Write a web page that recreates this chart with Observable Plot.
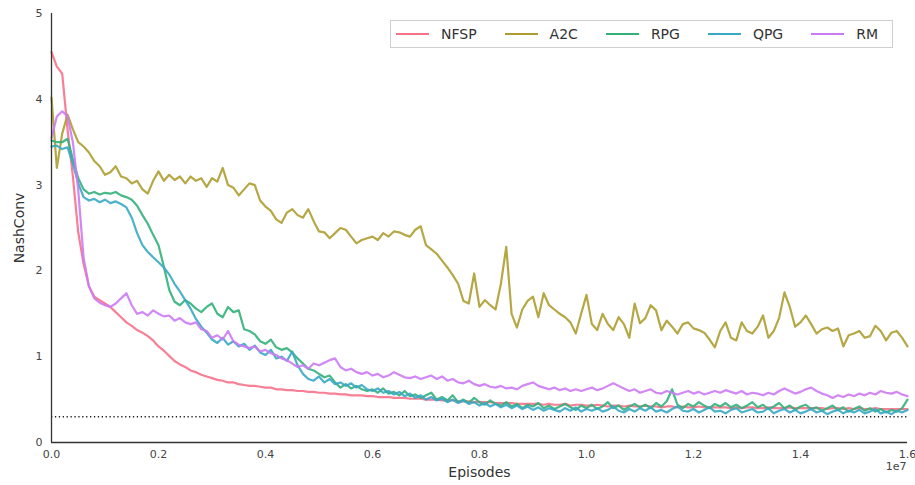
<!DOCTYPE html>
<html>
<head>
<meta charset="utf-8">
<script src="https://cdn.jsdelivr.net/npm/d3@7"></script>
<script src="https://cdn.jsdelivr.net/npm/@observablehq/plot@0.6"></script>
<style>
  html, body { margin: 0; padding: 0; background: #fff; }
  #wrap { position: relative; width: 915px; height: 485px; font-family: "DejaVu Sans", sans-serif; }
  #legend { position: absolute; left: 390px; top: 20px; width: 496px; height: 26px; border: 1px solid #cfcfcf; background: #fff;
            display: flex; align-items: center; box-sizing: content-box; padding-left: 5px; }
  .item { display: flex; align-items: center; margin-right: 28px; font-size: 14px; color: #333; }
  .item:last-child { margin-right: 0; }
  .swatch { width: 33px; height: 0; border-top: 2px solid; margin-right: 12px; }
</style>
</head>
<body>
<div id="wrap"><div id="legend"></div></div>
<script>
// x grid: episodes, step 1e5 (0 .. 1.6e7)
const episodes = d3.range(161).map(i => i * 1e5);

const names = ["NFSP", "A2C", "RPG", "QPG", "RM"];
const colors = ["#f77189", "#ae9d31", "#33b07a", "#38a9c5", "#cc7af4"];
const threshold = 0.3;
const xTicks = [0, 0.2e7, 0.4e7, 0.6e7, 0.8e7, 1.0e7, 1.2e7, 1.4e7, 1.6e7];
const yTicks = [0, 1, 2, 3, 4, 5];

const nfsp = [4.55,4.38,4.30,3.65,3.10,2.45,2.08,1.82,1.70,1.66,
1.62,1.58,1.52,1.46,1.40,1.36,1.31,1.28,1.24,1.19,
1.12,1.07,1.01,0.95,0.91,0.88,0.84,0.82,0.79,0.77,
0.75,0.73,0.72,0.70,0.70,0.68,0.67,0.66,0.66,0.65,
0.64,0.64,0.62,0.62,0.61,0.61,0.60,0.60,0.59,0.59,
0.58,0.58,0.57,0.57,0.56,0.56,0.55,0.55,0.55,0.54,
0.54,0.53,0.53,0.53,0.52,0.52,0.52,0.51,0.51,0.51,
0.50,0.50,0.50,0.49,0.49,0.49,0.48,0.48,0.48,0.47,
0.47,0.47,0.47,0.46,0.46,0.46,0.46,0.45,0.45,0.45,
0.45,0.45,0.44,0.45,0.44,0.44,0.45,0.43,0.44,0.44,
0.43,0.43,0.44,0.43,0.42,0.43,0.43,0.42,0.43,0.42,
0.42,0.43,0.42,0.42,0.41,0.42,0.42,0.41,0.42,0.41,
0.41,0.42,0.41,0.41,0.41,0.41,0.41,0.40,0.41,0.40,
0.41,0.41,0.40,0.40,0.41,0.40,0.40,0.40,0.41,0.40,
0.40,0.40,0.40,0.40,0.40,0.39,0.40,0.40,0.39,0.40,
0.39,0.40,0.39,0.39,0.40,0.39,0.39,0.39,0.39,0.39,
0.39];

const a2c = [4.02,3.20,3.60,3.82,3.65,3.50,3.45,3.38,3.28,3.22,
3.12,3.15,3.22,3.10,3.08,3.02,3.05,2.95,2.90,3.05,
3.16,3.05,3.12,3.06,3.10,3.02,3.10,3.05,3.08,2.98,
3.08,3.04,3.20,3.00,2.97,2.88,2.95,3.02,3.00,2.82,
2.75,2.70,2.60,2.56,2.68,2.72,2.65,2.62,2.72,2.58,
2.46,2.45,2.38,2.44,2.50,2.48,2.40,2.32,2.36,2.38,
2.40,2.36,2.44,2.40,2.46,2.45,2.42,2.40,2.48,2.52,
2.30,2.25,2.20,2.12,2.04,1.95,1.85,1.65,1.62,1.97,
1.58,1.66,1.60,1.55,1.85,2.28,1.50,1.34,1.55,1.65,
1.70,1.46,1.74,1.60,1.55,1.50,1.46,1.40,1.27,1.50,
1.72,1.38,1.31,1.50,1.38,1.31,1.46,1.38,1.22,1.62,
1.39,1.45,1.60,1.54,1.31,1.42,1.35,1.27,1.38,1.40,
1.33,1.31,1.28,1.20,1.11,1.30,1.40,1.22,1.19,1.40,
1.30,1.27,1.35,1.48,1.22,1.30,1.45,1.75,1.58,1.35,
1.40,1.48,1.38,1.27,1.32,1.34,1.30,1.33,1.12,1.25,
1.27,1.30,1.22,1.24,1.36,1.30,1.19,1.28,1.30,1.22,
1.12];

const rpg = [3.52,3.50,3.50,3.54,3.30,3.08,2.95,2.90,2.92,2.89,
2.91,2.90,2.92,2.88,2.86,2.83,2.76,2.65,2.55,2.42,
2.30,2.05,1.78,1.64,1.60,1.66,1.62,1.56,1.52,1.58,
1.62,1.50,1.46,1.58,1.52,1.54,1.32,1.30,1.26,1.18,
1.15,1.20,1.11,1.08,1.10,1.05,0.98,0.92,0.86,0.84,
0.80,0.76,0.78,0.70,0.64,0.68,0.63,0.66,0.62,0.60,
0.62,0.58,0.63,0.57,0.59,0.55,0.60,0.54,0.56,0.52,
0.55,0.58,0.50,0.53,0.49,0.55,0.47,0.50,0.46,0.52,
0.47,0.44,0.49,0.45,0.43,0.47,0.42,0.45,0.40,0.44,
0.42,0.46,0.40,0.43,0.39,0.42,0.45,0.41,0.38,0.43,
0.40,0.44,0.39,0.42,0.47,0.40,0.43,0.38,0.42,0.45,
0.41,0.44,0.40,0.46,0.42,0.48,0.62,0.44,0.40,0.45,
0.42,0.47,0.43,0.40,0.45,0.42,0.46,0.41,0.44,0.40,
0.43,0.47,0.41,0.44,0.39,0.42,0.46,0.40,0.43,0.38,
0.42,0.44,0.39,0.41,0.37,0.40,0.43,0.38,0.41,0.36,
0.39,0.42,0.37,0.40,0.36,0.39,0.35,0.38,0.36,0.40,
0.50];

const qpg = [3.45,3.46,3.42,3.44,3.25,3.02,2.86,2.82,2.84,2.80,
2.83,2.79,2.81,2.78,2.74,2.62,2.44,2.30,2.22,2.16,
2.10,2.04,1.96,1.85,1.76,1.66,1.56,1.44,1.35,1.28,
1.20,1.16,1.22,1.14,1.18,1.12,1.15,1.08,1.13,1.05,
1.02,1.08,0.98,1.00,0.95,1.06,0.90,0.80,0.74,0.72,
0.77,0.70,0.74,0.68,0.70,0.66,0.69,0.64,0.67,0.62,
0.60,0.63,0.58,0.60,0.56,0.59,0.54,0.57,0.52,0.55,
0.50,0.53,0.49,0.51,0.47,0.50,0.46,0.49,0.45,0.47,
0.43,0.46,0.42,0.45,0.41,0.44,0.40,0.43,0.39,0.42,
0.38,0.41,0.37,0.40,0.38,0.36,0.40,0.37,0.41,0.36,
0.39,0.37,0.40,0.36,0.38,0.42,0.37,0.35,0.39,0.36,
0.40,0.37,0.41,0.36,0.38,0.35,0.39,0.42,0.37,0.36,
0.39,0.35,0.38,0.41,0.36,0.37,0.34,0.38,0.40,0.35,
0.37,0.39,0.35,0.36,0.40,0.34,0.37,0.39,0.35,0.38,
0.34,0.36,0.39,0.35,0.37,0.33,0.36,0.38,0.34,0.37,
0.35,0.38,0.34,0.36,0.39,0.34,0.36,0.33,0.37,0.35,
0.38];

const rm = [3.55,3.80,3.86,3.80,3.50,2.94,2.15,1.82,1.68,1.63,
1.60,1.58,1.62,1.68,1.74,1.60,1.50,1.52,1.48,1.54,
1.50,1.47,1.48,1.42,1.45,1.40,1.38,1.40,1.32,1.30,
1.22,1.25,1.20,1.30,1.18,1.14,1.12,1.10,1.12,1.06,
1.08,1.04,1.02,0.98,0.96,0.92,0.88,0.90,0.86,0.92,
0.90,0.93,0.96,0.98,0.88,0.84,0.86,0.82,0.80,0.82,
0.78,0.80,0.76,0.78,0.82,0.79,0.76,0.75,0.77,0.74,
0.76,0.78,0.74,0.77,0.72,0.74,0.70,0.69,0.72,0.68,
0.66,0.68,0.65,0.64,0.66,0.63,0.64,0.62,0.66,0.68,
0.70,0.66,0.64,0.62,0.64,0.61,0.63,0.60,0.62,0.60,
0.62,0.64,0.61,0.63,0.66,0.69,0.66,0.63,0.60,0.62,
0.58,0.60,0.62,0.58,0.57,0.60,0.58,0.56,0.58,0.60,
0.57,0.59,0.56,0.58,0.60,0.58,0.61,0.59,0.57,0.60,
0.56,0.58,0.57,0.55,0.58,0.56,0.60,0.63,0.60,0.57,
0.59,0.62,0.64,0.60,0.57,0.55,0.52,0.55,0.53,0.56,
0.54,0.57,0.55,0.58,0.56,0.60,0.58,0.57,0.59,0.56,
0.54];

const seriesValues = [nfsp, a2c, rpg, qpg, rm];
const rows = [];
names.forEach((name, k) => {
  seriesValues[k].forEach((v, i) => rows.push({episodes: episodes[i], value: v, algo: name}));
});

const chart = Plot.plot({
  width: 915,
  height: 485,
  marginLeft: 51,
  marginRight: 8,
  marginTop: 13,
  marginBottom: 43,
  style: {fontFamily: "DejaVu Sans, sans-serif", fontSize: "11px", color: "#444", background: "#fff"},
  x: {domain: [0, 1.6e7], ticks: xTicks, tickFormat: d => (d / 1e7).toFixed(1), tickSize: 0, tickPadding: 8,
      label: "Episodes", labelAnchor: "center", labelArrow: "none", labelOffset: 34},
  y: {domain: [0, 5], ticks: yTicks, tickFormat: d => String(d), tickSize: 0, tickPadding: 9,
      label: "NashConv", labelAnchor: "center", labelArrow: "none", labelOffset: 37},
  color: {domain: names, range: colors},
  marks: [
    Plot.ruleY([threshold], {stroke: "#222", strokeWidth: 1.3, strokeDasharray: "1.3,2.6"}),
    Plot.line(rows, {x: "episodes", y: "value", z: "algo", stroke: "algo", strokeWidth: 2.2, strokeOpacity: 0.9, curve: "linear"}),
    Plot.ruleX([0], {stroke: "#333", strokeWidth: 1.3}),
    Plot.ruleY([0], {stroke: "#333", strokeWidth: 1.3}),
    Plot.text(["1e7"], {frameAnchor: "bottom-right", dy: 27, dx: -1, textAnchor: "end", fill: "#444", fontSize: 11})
  ]
});
d3.select(chart).selectAll("g[aria-label='x-axis label'] text, g[aria-label='y-axis label'] text")
  .style("font-size", "14px").style("fill", "#333");
document.getElementById("wrap").prepend(chart);

const legend = document.getElementById("legend");
names.forEach((n, k) => {
  const it = document.createElement("div");
  it.className = "item";
  const sw = document.createElement("div");
  sw.className = "swatch";
  sw.style.borderTopColor = colors[k];
  const tx = document.createElement("span");
  tx.textContent = n;
  it.appendChild(sw); it.appendChild(tx);
  legend.appendChild(it);
});
</script>
</body>
</html>
